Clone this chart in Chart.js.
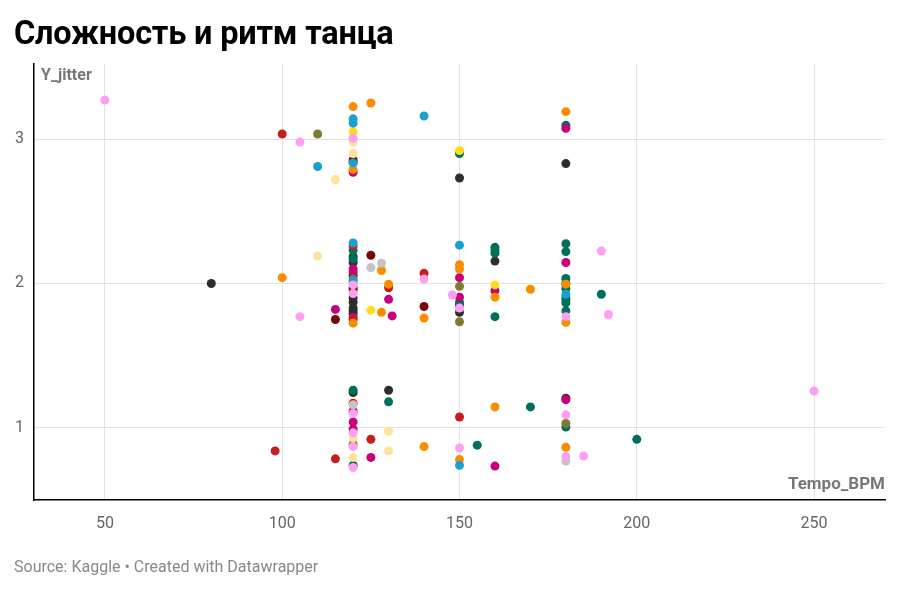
<!DOCTYPE html>
<html>
<head>
<meta charset="utf-8">
<script src="https://cdn.jsdelivr.net/npm/chart.js@4"></script>
<style>
  body { margin: 0; background: #fff; font-family: Roboto, "Noto Sans", sans-serif; }
  #wrap { position: relative; width: 900px; height: 592px; }
  #chart { position: absolute; left: 0; top: 0; }
  .title { position: absolute; left: 14px; top: 13px; font-size: 32.5px; line-height: 40px; font-weight: 700; color: #000; margin: 0; letter-spacing: -0.2px; }
  .axlabel { position: absolute; font-size: 16px; line-height: 18px; font-weight: 700; color: #777; }
  .source { position: absolute; left: 14px; top: 557px; font-size: 16px; line-height: 20px; color: #888; }
</style>
</head>
<body>
<div id="wrap">
  <canvas id="chart" width="900" height="592"></canvas>
  <h1 class="title">Сложность и ритм танца</h1>
  <div class="axlabel" style="left:41px; top:66px;">Y_jitter</div>
  <div class="axlabel" style="right:15px; top:474px; font-size:17px;">Tempo_BPM</div>
  <div class="source">Source: Kaggle • Created with Datawrapper</div>
</div>
<script>
const xTicks = [50, 100, 150, 200, 250];
const yTicks = [1, 2, 3];

// one pair of arrays per colour group (Tempo_BPM, Y_jitter)
const tempoPink = [50, 105, 120, 105, 120, 120, 140, 148, 150, 180, 190, 192, 120, 120, 120, 120, 150, 180, 180, 185, 250];
const jitterPink = [3.27, 2.98, 3.005, 1.77, 1.99, 1.93, 2.03, 1.92, 1.83, 1.77, 2.225, 1.785, 1.10, 0.965, 0.87, 0.725, 0.86, 1.09, 0.80, 0.805, 1.255];

const tempoTan = [115, 120, 120, 110, 120, 120, 130, 130];
const jitterTan = [2.72, 2.98, 2.90, 2.19, 0.93, 0.795, 0.977, 0.84];

const tempoGray = [125, 128, 180, 120];
const jitterGray = [2.11, 2.14, 0.77, 1.16];

const tempoBlue = [110, 120, 120, 120, 140, 120, 120, 150, 180, 150];
const jitterBlue = [2.81, 3.14, 3.11, 2.835, 3.16, 2.28, 2.015, 2.265, 1.925, 0.74];

const tempoOrange = [120, 125, 180, 120, 100, 128, 130, 128, 140, 150, 150, 160, 170, 180, 180, 120, 140, 150, 160, 180];
const jitterOrange = [3.225, 3.25, 3.19, 2.79, 2.04, 2.09, 1.995, 1.80, 1.76, 2.13, 2.10, 1.905, 1.96, 1.995, 1.73, 1.725, 0.87, 0.78, 1.145, 0.865];

const tempoYellow = [120, 150, 125, 160];
const jitterYellow = [3.05, 2.92, 1.815, 1.99];

const tempoOlive = [110, 150, 150, 120, 180, 120];
const jitterOlive = [3.035, 1.98, 1.735, 0.885, 1.03, 2.03];

const tempoRed = [100, 120, 130, 140, 120, 98, 115, 125, 120, 150];
const jitterRed = [3.035, 2.26, 1.97, 2.07, 1.75, 0.84, 0.785, 0.92, 1.17, 1.075];

const tempoMaroon = [120, 125, 115, 120, 120, 140];
const jitterMaroon = [2.855, 2.195, 1.75, 1.97, 1.955, 1.84];

const tempoMagenta = [120, 115, 130, 131, 120, 120, 120, 150, 150, 160, 180, 180, 125, 120, 120, 120, 160, 180];
const jitterMagenta = [2.77, 1.82, 1.89, 1.775, 2.10, 2.08, 1.765, 2.04, 1.905, 1.95, 2.145, 3.075, 0.795, 1.115, 1.04, 0.99, 0.735, 1.195];

const tempoTeal = [150, 180, 120, 120, 160, 160, 160, 160, 180, 180, 180, 180, 180, 180, 180, 180, 180, 190, 120, 130, 155, 170, 180, 200, 120, 150];
const jitterTeal = [2.90, 3.095, 2.23, 2.17, 2.25, 2.23, 2.21, 1.77, 2.275, 2.22, 2.035, 2.0, 1.965, 1.90, 1.885, 1.865, 1.81, 1.925, 1.26, 1.18, 0.88, 1.145, 1.005, 0.92, 0.74, 1.87];

const tempoBlack = [80, 120, 150, 180, 120, 120, 120, 120, 120, 120, 120, 120, 160, 150, 150, 120, 130, 180];
const jitterBlack = [2.0, 2.84, 2.73, 2.83, 2.185, 2.145, 2.055, 1.90, 1.87, 1.83, 1.81, 1.79, 2.155, 1.85, 1.80, 1.245, 1.26, 1.205];

const groups = [
  { tempo: tempoPink, jitter: jitterPink, color: "#ff9ff3" },
  { tempo: tempoTan, jitter: jitterTan, color: "#ffe39c" },
  { tempo: tempoGray, jitter: jitterGray, color: "#c4c4c4" },
  { tempo: tempoBlue, jitter: jitterBlue, color: "#18a1cd" },
  { tempo: tempoOrange, jitter: jitterOrange, color: "#fa8c00" },
  { tempo: tempoYellow, jitter: jitterYellow, color: "#ffdb1a" },
  { tempo: tempoOlive, jitter: jitterOlive, color: "#7d7a32" },
  { tempo: tempoRed, jitter: jitterRed, color: "#c71e1d" },
  { tempo: tempoMaroon, jitter: jitterMaroon, color: "#7a0a0a" },
  { tempo: tempoMagenta, jitter: jitterMagenta, color: "#c8007a" },
  { tempo: tempoTeal, jitter: jitterTeal, color: "#00705a" },
  { tempo: tempoBlack, jitter: jitterBlack, color: "#2e2e2e" },
];

const datasets = groups.map(g => ({
  data: g.tempo.map((t, i) => ({ x: t, y: g.jitter[i] })),
  backgroundColor: g.color,
  borderWidth: 0,
  pointRadius: 4.5,
  pointHoverRadius: 4.5,
}));

const tickFont = { family: "Roboto", size: 16 };

new Chart(document.getElementById("chart"), {
  type: "scatter",
  data: { datasets },
  options: {
    responsive: false,
    animation: false,
    layout: { padding: { left: 0, top: 64, right: 15, bottom: 52 } },
    plugins: { legend: { display: false }, tooltip: { enabled: false } },
    scales: {
      x: {
        type: "linear",
        min: 30,
        max: 270,
        afterBuildTicks: s => { s.ticks = xTicks.map(v => ({ value: v })); },
        afterFit: s => { s.height = 40; },
        grid: { color: "#e3e3e3", drawTicks: false, lineWidth: 1 },
        border: { color: "#000", width: 1.5 },
        ticks: { font: tickFont, color: "#666", padding: 14 },
      },
      y: {
        type: "linear",
        min: 0.5,
        max: 3.52,
        afterBuildTicks: s => { s.ticks = yTicks.map(v => ({ value: v })); },
        afterFit: s => { s.width = 34; },
        grid: { color: "#e3e3e3", drawTicks: false, lineWidth: 1 },
        border: { color: "#000", width: 1.5 },
        ticks: { font: tickFont, color: "#666", padding: 10 },
      },
    },
  },
});
</script>
</body>
</html>
